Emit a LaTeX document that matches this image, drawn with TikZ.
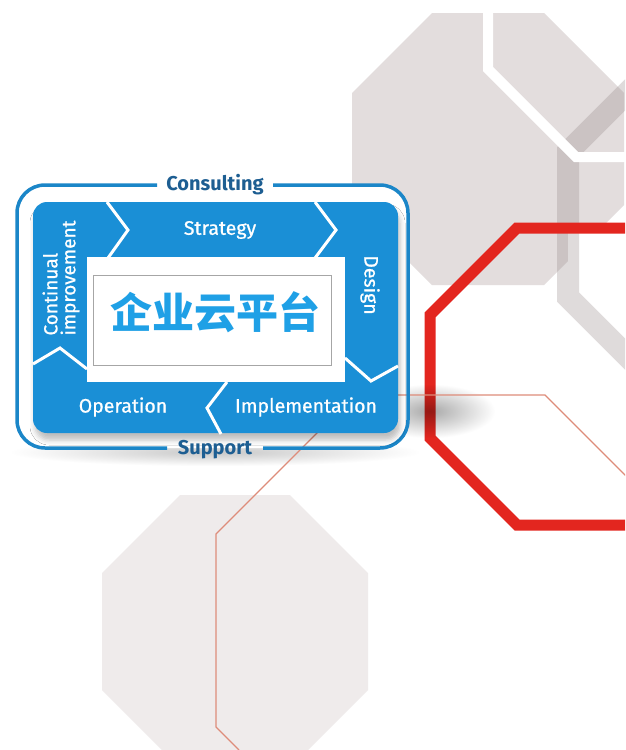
\documentclass[tikz,border=0pt]{standalone}
\usepackage{fontspec}
\setmainfont{Fira Sans}
\newfontfamily\lblfont[FakeBold=0.8]{Fira Sans}
\newfontfamily\cjk{Noto Sans CJK SC}
\usetikzlibrary{shadows.blur,fadings}
\definecolor{octA}{RGB}{227,221,221}
\definecolor{octF}{RGB}{239,235,235}
\definecolor{octband}{RGB}{150,138,138}
\definecolor{redoct}{RGB}{227,38,31}
\definecolor{thinred}{RGB}{222,140,122}
\definecolor{boxblue}{RGB}{26,143,214}
\definecolor{lineblue}{RGB}{27,134,200}
\definecolor{darkblue}{RGB}{29,94,146}
\definecolor{cjkblue}{RGB}{31,160,230}
\tikzfading[name=softfade, inner color=transparent!0, outer color=transparent!100]
\tikzset{
  lbl/.style={text=white, font=\lblfont\fontsize{19.5}{20}\selectfont, inner sep=0pt},
  edgelbl/.style={text=darkblue, font=\bfseries\fontsize{20}{22}\selectfont, inner sep=0pt},
  chev/.style={draw=white, line width=3pt, line join=miter, line cap=butt},
}
\begin{document}
\begin{tikzpicture}[x=1pt,y=-1pt]
\useasboundingbox (0,0) rectangle (625,750);
\begin{scope}
\clip (0,0) rectangle (625,750);
\fill[white] (0,0) rectangle (625,750);
% light octagon bottom left
\fill[octF] (180,495) -- (290,495) -- (368,573) -- (368,690) -- (290,768) -- (180,768) -- (102,690) -- (102,573) -- cycle;
% big grey octagon top
\fill[octA] (432,13) -- (544,13) -- (624,93) -- (624,205) -- (544,285) -- (432,285) -- (352,205) -- (352,93) -- cycle;
% inner part of right octagon
\fill[white] (568,228) -- (640,228) -- (640,375) -- (568,297) -- cycle;
\draw[octband, opacity=0.3, line width=22pt, line join=miter] (660,60) -- (568,152) -- (568,297) -- (660,389);
% white band
\draw[white, line width=10pt, line join=miter] (488,-5) -- (488,69) -- (576,157) -- (640,157);
% red octagon
\draw[redoct, line width=11pt, line join=miter] (517,228) -- (740,228) -- (740,525) -- (517,525) -- (430,438) -- (430,315) -- cycle;
% shadow of the box
\fill[black, opacity=0.34, path fading=softfade] (365,384) rectangle (495,438);
\fill[black, opacity=0.22, path fading=softfade] (10,438) rectangle (420,466);
% outer box fill
\fill[white, rounded corners=28pt] (17,185) rectangle (408,448);
% thin red octagon
\draw[thinred, line width=1.2pt] (239,750) -- (216,727) -- (216,534) -- (355,395) -- (545,395) -- (700,550);
% outer outline with gaps
\draw[lineblue, line width=3.5pt, rounded corners=28pt] (157,185) -- (17,185) -- (17,448) -- (167,448);
\draw[lineblue, line width=3.5pt, rounded corners=28pt] (263,448) -- (408,448) -- (408,185) -- (273,185);
% inner blue
\fill[boxblue, rounded corners=14pt, blur shadow={shadow xshift=2pt, shadow yshift=-7pt, shadow opacity=25, shadow blur radius=5pt}] (33,202) rectangle (398,433);
% chevrons
\draw[chev] (107,202) -- (128,230) -- (108,258);
\draw[chev] (315,202) -- (336,230) -- (315,258);
\draw[chev] (345,358) -- (371,381) -- (398,366);
\draw[chev] (227,382) -- (207,408) -- (221,434);
\draw[chev] (33,364) -- (60,348) -- (87,369);
% hole
\fill[white] (87,257) rectangle (345,382);
\draw[black!35, line width=0.8pt, fill=white] (93,275) rectangle (331,365);
\node[text=cjkblue, font=\cjk\bfseries\fontsize{42}{44}\selectfont, inner sep=0pt] (title) at (215,312) {企业云平台};
% labels
\node[lbl] (strategy) at (220,230) {Strategy};
\node[lbl, rotate=-90] (design) at (370,285) {Design};
\node[lbl, rotate=90, align=left, font=\lblfont\fontsize{19}{18}\selectfont] (ci) at (61,278) {Continual\\improvement};
\node[lbl] (operation) at (123,407) {Operation};
\node[lbl] (impl) at (306,407) {Implementation};
\node[edgelbl] (consult) at (215,185) {Consulting};
\node[edgelbl] (support) at (215,450) {Support};
\end{scope}
\end{tikzpicture}
\end{document}
